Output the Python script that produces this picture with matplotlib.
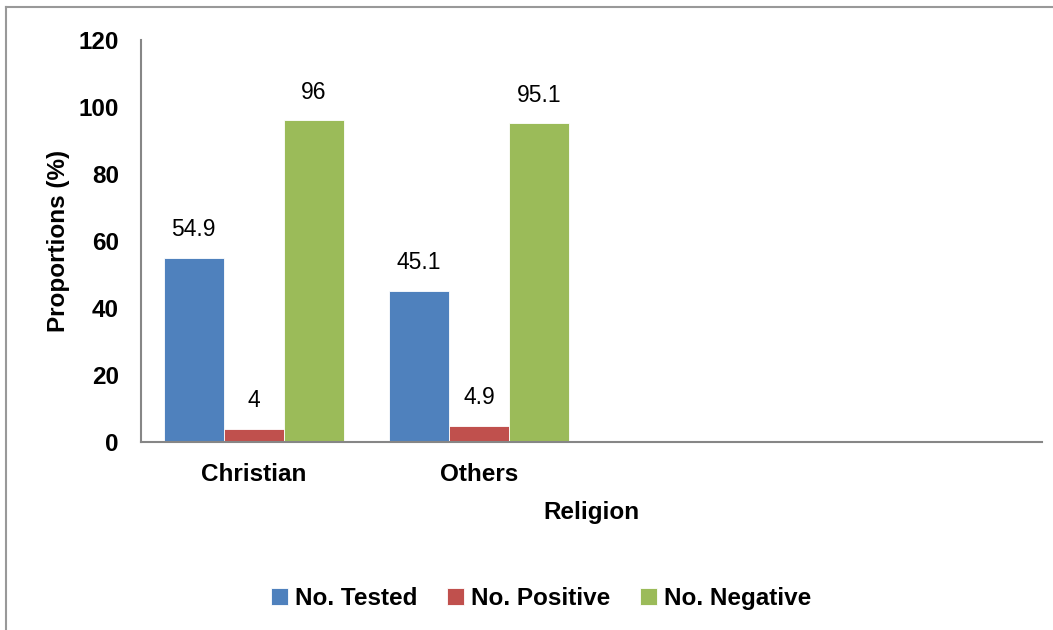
import numpy as np
import matplotlib.pyplot as plt
from matplotlib.lines import Line2D

# data
categories = ['Christian', 'Others', '', '']
tested = [54.9, 45.1]
positive = [4, 4.9]
negative = [96, 95.1]
series_names = ['No. Tested', 'No. Positive', 'No. Negative']
colors = ['#4F81BD', '#C0504D', '#9BBB59']

plt.rcParams['font.family'] = ['Liberation Sans', 'DejaVu Sans']

fig = plt.figure(figsize=(10.53, 6.3), dpi=100)
ax = fig.add_axes([0.1339, 0.2984, 0.8557, 0.6381])

x = np.arange(len(tested))
w = 0.8 / 3
for i, (vals, name) in enumerate(zip([tested, positive, negative], series_names)):
    bars = ax.bar(x + (i - 1) * w, vals, w, color=colors[i], edgecolor='white',
                  linewidth=0.6, label=name)
    for b, v in zip(bars, vals):
        ax.annotate(f'{v:g}', (b.get_x() + b.get_width() / 2, v),
                    xytext=(0, 12), textcoords='offset points',
                    ha='center', va='bottom', fontsize=16.5)

ax.set_xlim(-0.5, len(categories) - 0.5)
ax.set_ylim(0, 120)
ax.set_yticks(range(0, 121, 20))
ax.set_xticks(range(len(categories)))
ax.set_xticklabels(categories)
ax.tick_params(axis='y', length=0, pad=16, labelsize=17.5)
ax.tick_params(axis='x', length=0, pad=15, labelsize=17.5)
for lab in ax.get_xticklabels() + ax.get_yticklabels():
    lab.set_fontweight('bold')

for s in ['top', 'right']:
    ax.spines[s].set_visible(False)
for s in ['left', 'bottom']:
    ax.spines[s].set_color('#868686')
    ax.spines[s].set_linewidth(1.5)

ax.set_xlabel('Religion', fontsize=17.5, fontweight='bold', labelpad=11)
ax.set_ylabel('Proportions (%)', fontsize=17.5, fontweight='bold')
ax.yaxis.set_label_coords(-0.079, 0.5)

fig.legend(loc='center', bbox_to_anchor=(0.514, 0.05), ncol=3, frameon=False,
           prop={'size': 17.5, 'weight': 'bold'}, handlelength=0.7, handleheight=0.7,
           handletextpad=0.3, columnspacing=1.2)

# chart border (top and left only visible)
fig.add_artist(Line2D([0.006, 1], [0.989, 0.989], color='#999999', lw=1.5))
fig.add_artist(Line2D([0.006, 0.006], [0, 0.989], color='#999999', lw=1.5))

fig.savefig('out.png', dpi=100)
